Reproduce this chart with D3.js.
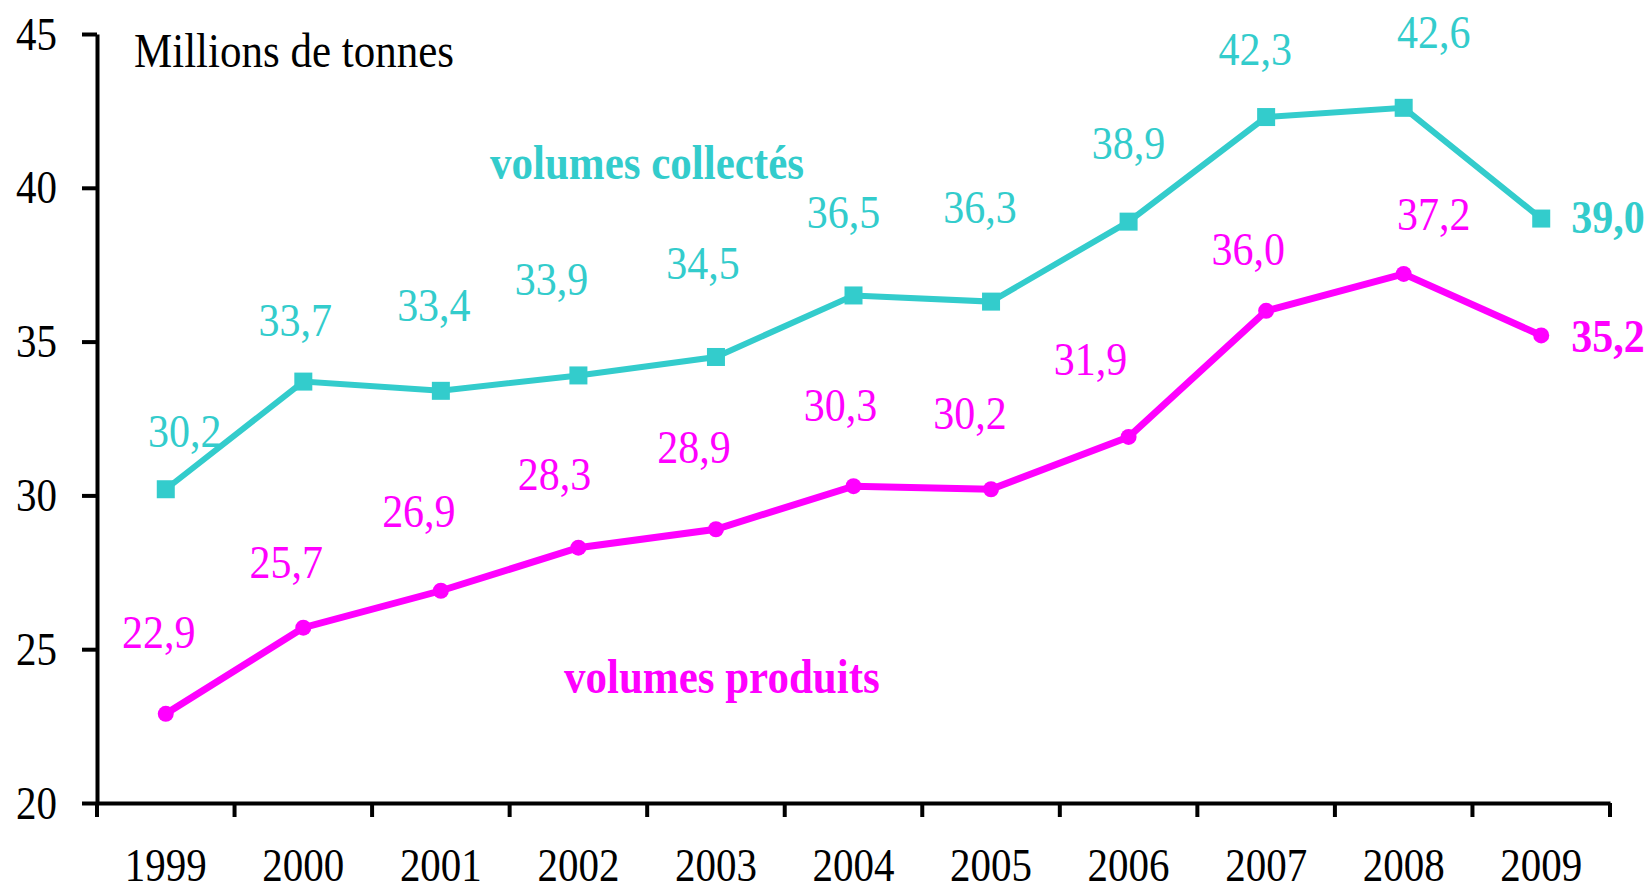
<html>

<head>
    <meta charset="utf-8">
    <title>volumes collectes / produits</title>
    <style>
        body {
            margin: 0;
            background: #fff;
        }

        text {
            font-family: "Liberation Serif", "Times New Roman", serif;
        }

        .axis path,
        .axis line {
            fill: none;
            stroke: #000;
            stroke-width: 4;
        }
    </style>
    <script src="https://cdn.jsdelivr.net/npm/d3@7"></script>
</head>

<body>

</body>
<script>
    // data
    var years = ["1999", "2000", "2001", "2002", "2003", "2004", "2005", "2006", "2007", "2008", "2009"];
    var collected = [30.2, 33.7, 33.4, 33.9, 34.5, 36.5, 36.3, 38.9, 42.3, 42.6, 39.0];
    var produced = [22.9, 25.7, 26.9, 28.3, 28.9, 30.3, 30.2, 31.9, 36.0, 37.2, 35.2];
    var yTicks = [20, 25, 30, 35, 40, 45];

    // label nudges (dx, dy from the point), last one sits right of the point
    var collectedNudge = [[19, -42], [-8, -46], [-7, -70], [-27, -80], [-13, -78], [-10, -67], [-11, -79], [0, -63], [-11, -52], [30, -60], [30, 14]];
    var producedNudge = [[-7, -66], [-17, -50], [-22, -64], [-24, -58], [-22, -66], [-13, -65], [-21, -60], [-38, -62], [-18, -46], [30, -44], [30, 17]];

    var teal = "#33cccc",
        pink = "#ff00ff";
    var stretch = "scale(1,1.12)";

    var width = 1652,
        height = 890;

    var x = d3.scaleBand()
        .domain(years)
        .range([97, 1610]);

    var y = d3.scaleLinear()
        .domain([20, 45])
        .range([803, 34]);

    var fmt = function(v) {
        return d3.format(".1f")(v).replace(".", ",");
    };

    var svg = d3.select("body").append("svg")
        .attr("width", width)
        .attr("height", height)
        .style("background", "#fff");

    // y axis
    var yAxis = svg.append("g")
        .attr("class", "axis")
        .attr("transform", "translate(97,0)")
        .call(d3.axisLeft(y).tickValues(yTicks).tickSize(15).tickSizeOuter(0).tickPadding(25));
    yAxis.selectAll("text")
        .attr("dy", null)
        .attr("transform", "translate(0,15) " + stretch)
        .style("font-size", "41px")
        .attr("fill", "#000");

    // x axis: labels centred, ticks on the category borders
    var xAxis = svg.append("g")
        .attr("class", "axis")
        .attr("transform", "translate(0,803)")
        .call(d3.axisBottom(x).tickSize(0).tickSizeOuter(0));
    xAxis.selectAll("text")
        .attr("y", null)
        .attr("dy", null)
        .attr("transform", "translate(0,78) " + stretch)
        .style("font-size", "41px")
        .attr("fill", "#000");

    var borders = years.map(function(d) {
        return x(d);
    }).concat([x.range()[1]]);
    xAxis.selectAll(".border")
        .data(borders)
        .enter()
        .append("line")
        .attr("class", "border")
        .attr("x1", function(d) {
            return d;
        })
        .attr("x2", function(d) {
            return d;
        })
        .attr("y1", 0)
        .attr("y2", 14);

    var cx = function(d, i) {
        return x(years[i]) + x.bandwidth() / 2;
    };

    var line = d3.line()
        .x(cx)
        .y(function(d) {
            return y(d);
        });

    // volumes collectés
    svg.append("path")
        .datum(collected)
        .attr("fill", "none")
        .attr("stroke", teal)
        .attr("stroke-width", 6)
        .attr("d", line);

    svg.selectAll(".sq")
        .data(collected)
        .enter()
        .append("rect")
        .attr("class", "sq")
        .attr("x", function(d, i) {
            return cx(d, i) - 9;
        })
        .attr("y", function(d) {
            return y(d) - 9;
        })
        .attr("width", 18)
        .attr("height", 18)
        .attr("fill", teal);

    // volumes produits
    svg.append("path")
        .datum(produced)
        .attr("fill", "none")
        .attr("stroke", pink)
        .attr("stroke-width", 7)
        .attr("d", line);

    svg.selectAll(".dot")
        .data(produced)
        .enter()
        .append("circle")
        .attr("class", "dot")
        .attr("cx", cx)
        .attr("cy", function(d) {
            return y(d);
        })
        .attr("r", 8)
        .attr("fill", pink);

    function valueLabels(values, nudge, colour) {
        var last = values.length - 1;
        svg.append("g")
            .selectAll("text")
            .data(values)
            .enter()
            .append("text")
            .attr("transform", function(d, i) {
                return "translate(" + (cx(d, i) + nudge[i][0]) + "," + (y(d) + nudge[i][1]) + ") " + stretch;
            })
            .attr("text-anchor", function(d, i) {
                return i === last ? "start" : "middle";
            })
            .style("font-size", "42px")
            .style("font-weight", function(d, i) {
                return i === last ? "bold" : "normal";
            })
            .attr("fill", colour)
            .text(fmt);
    }

    valueLabels(collected, collectedNudge, teal);
    valueLabels(produced, producedNudge, pink);

    // titles
    svg.append("text")
        .attr("transform", "translate(134,67) " + stretch)
        .style("font-size", "43px")
        .attr("fill", "#000")
        .text("Millions de tonnes");

    svg.append("text")
        .attr("transform", "translate(490,179) " + stretch)
        .style("font-size", "43px")
        .style("font-weight", "bold")
        .attr("fill", teal)
        .text("volumes collectés");

    svg.append("text")
        .attr("transform", "translate(564,693) " + stretch)
        .style("font-size", "43px")
        .style("font-weight", "bold")
        .attr("fill", pink)
        .text("volumes produits");
</script>

</html>
